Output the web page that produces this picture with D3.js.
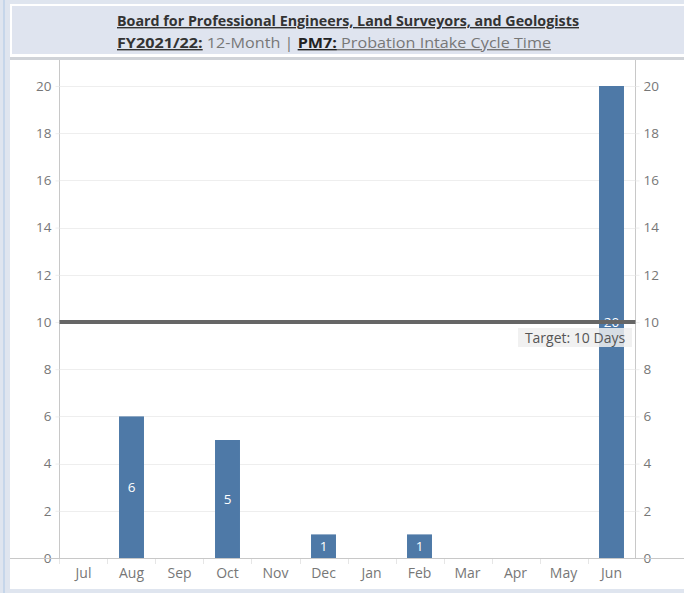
<!DOCTYPE html>
<html><head><meta charset="utf-8">
<script src="https://cdn.jsdelivr.net/npm/d3@7"></script>
<style>
html,body{margin:0;padding:0;background:#dfe5ef;}
svg{display:block;}
</style></head>
<body>
<svg id="chart" width="684" height="593"></svg>
<script>
const months = ["Jul","Aug","Sep","Oct","Nov","Dec","Jan","Feb","Mar","Apr","May","Jun"];
const values = [null, 6, null, 5, null, 1, null, 1, null, null, null, 20];
const yTicks = [0,2,4,6,8,10,12,14,16,18,20];
const target = 10;
const targetLabel = "Target: 10 Days";
const titleLine1 = "Board for Professional Engineers, Land Surveyors, and Geologists";
const titleLine2 = [
  {t:"FY2021/22:", bold:true, col:"#333", u:true},
  {t:" 12-Month | ", bold:false, col:"#777", u:false},
  {t:"PM7:", bold:true, col:"#222", u:true},
  {t:"  Probation Intake Cycle Time", bold:false, col:"#777", u:true}
];

(function(){
const svg = d3.select("#chart");
const font = "'Open Sans', 'DejaVu Sans', sans-serif";

// page frame
svg.append("rect").attr("x",0).attr("y",0).attr("width",684).attr("height",593).attr("fill","#dfe5ef");
svg.append("rect").attr("x",3).attr("y",0).attr("width",2).attr("height",593).attr("fill","#c6d6ea");
// title box
svg.append("rect").attr("x",10).attr("y",4).attr("width",674).attr("height",53).attr("fill","#ffffff");
svg.append("rect").attr("x",12).attr("y",6).attr("width",672).attr("height",48).attr("fill","#dfe4ef");
svg.append("rect").attr("x",10).attr("y",57).attr("width",674).attr("height",3).attr("fill","#d0d3d8");
// chart area
svg.append("rect").attr("x",10).attr("y",60).attr("width",674).attr("height",529).attr("fill","#ffffff");

// titles
svg.append("text").attr("x",348).attr("y",26).attr("text-anchor","middle")
  .attr("font-family",font).attr("font-size",14).attr("font-weight","bold")
  .attr("fill","#333").attr("text-decoration","underline")
  .attr("textLength",462).attr("lengthAdjust","spacingAndGlyphs")
  .text(titleLine1);
const t2 = svg.append("text").attr("x",334).attr("y",48).attr("text-anchor","middle")
  .attr("font-family",font).attr("font-size",14)
  .attr("textLength",434).attr("lengthAdjust","spacingAndGlyphs");
titleLine2.forEach(p=>{
  t2.append("tspan").attr("font-weight",p.bold?"bold":"normal").attr("fill",p.col)
    .attr("text-decoration",p.u?"underline":"none").text(p.t);
});

const left=59.5, right=635.5, plotTop=86, bottom=558;
const x = d3.scaleBand().domain(months).range([left,right]).paddingInner(0.48).paddingOuter(0.24);
const y = d3.scaleLinear().domain([0,20]).range([bottom,plotTop]);

// gridlines
svg.append("g").selectAll("line").data(yTicks.filter(d=>d>0)).join("line")
  .attr("x1",left).attr("x2",right).attr("y1",d=>Math.round(y(d))+0.5).attr("y2",d=>Math.round(y(d))+0.5)
  .attr("stroke","#eeeeee").attr("stroke-width",1);

// axis lines
svg.append("line").attr("x1",left).attr("x2",left).attr("y1",60).attr("y2",bottom).attr("stroke","#c8c8c8");
svg.append("line").attr("x1",right).attr("x2",right).attr("y1",60).attr("y2",bottom).attr("stroke","#c8c8c8");

// left axis
const yl = svg.append("g").attr("transform",`translate(${left},0)`)
  .call(d3.axisLeft(y).tickValues(yTicks).tickSize(4).tickPadding(4));
yl.select(".domain").remove();
yl.selectAll(".tick line").attr("stroke","#eeeeee");
yl.selectAll("text").attr("font-family",font).attr("font-size",13.5).attr("fill","#777");

// right axis
const yr = svg.append("g").attr("transform",`translate(${right},0)`)
  .call(d3.axisRight(y).tickValues(yTicks).tickSize(4).tickPadding(4));
yr.select(".domain").remove();
yr.selectAll(".tick line").attr("stroke","#eeeeee");
yr.selectAll("text").attr("font-family",font).attr("font-size",13.5).attr("fill","#777");

// bars
const data = months.map((m,i)=>({m, v: values[i]})).filter(d=>d.v!=null);
svg.append("g").selectAll("rect").data(data).join("rect")
  .attr("x",d=>x(d.m)).attr("width",x.bandwidth())
  .attr("y",d=>y(d.v)).attr("height",d=>y(0)-y(d.v))
  .attr("fill","#4e79a7");
svg.append("g").selectAll("text").data(data).join("text")
  .attr("x",d=>x(d.m)+x.bandwidth()/2).attr("y",d=>(y(d.v)+y(0))/2)
  .attr("dy","0.35em").attr("text-anchor","middle")
  .attr("font-family",font).attr("font-size",13.5).attr("fill","#ffffff")
  .text(d=>d.v);

// bottom axis line
svg.append("line").attr("x1",10).attr("x2",684).attr("y1",bottom+0.5).attr("y2",bottom+0.5).attr("stroke","#c8c8c8");
// x axis
const xa = svg.append("g").attr("transform",`translate(0,${bottom+1})`)
  .call(d3.axisBottom(x).tickSize(0).tickPadding(9));
xa.select(".domain").remove();
xa.selectAll("text").attr("font-family",font).attr("font-size",14).attr("fill","#777");
// category separators
const seps = months.map(m=>x(m)-x.step()*x.paddingInner()/2);
svg.append("g").selectAll("line").data(seps).join("line")
  .attr("x1",d=>Math.round(d)+0.5).attr("x2",d=>Math.round(d)+0.5).attr("y1",bottom+1).attr("y2",bottom+6)
  .attr("stroke","#e6e6e6");

// target line
svg.append("line").attr("x1",left).attr("x2",right).attr("y1",y(target)).attr("y2",y(target))
  .attr("stroke","#666666").attr("stroke-width",4);
// target label
const lbl = svg.append("g");
lbl.append("rect").attr("x",518).attr("y",y(target)+6).attr("width",114).attr("height",19)
  .attr("fill","#eeeeee").attr("fill-opacity",0.85);
lbl.append("text").attr("x",575).attr("y",y(target)+16).attr("dy","0.35em").attr("text-anchor","middle")
  .attr("font-family",font).attr("font-size",14).attr("fill","#555")
  .text(targetLabel);
})();
</script>
</body></html>
